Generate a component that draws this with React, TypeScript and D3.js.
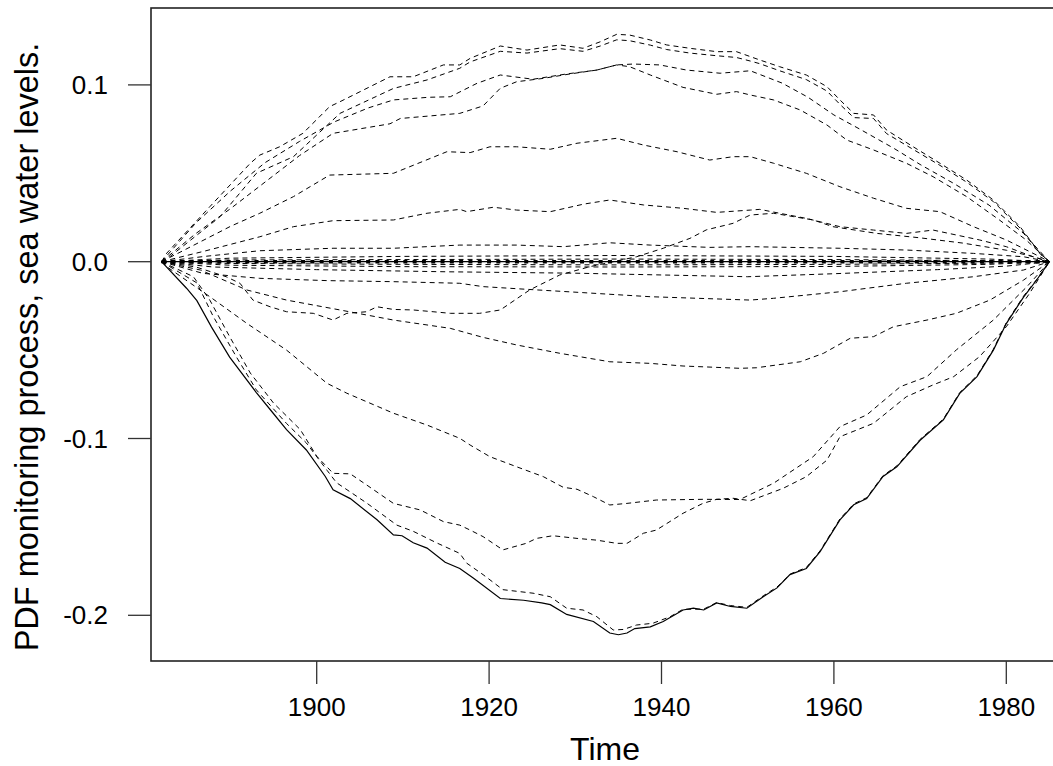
import React from "react"
import * as d3 from "d3"

const width = 1053
const height = 766
const box = { left: 151, top: 8, right: 1059, bottom: 661 }

const xTicks = [1900, 1920, 1940, 1960, 1980]
const yTicks = [0.1, 0.0, -0.1, -0.2]
const yTickLabels = ["0.1", "0.0", "-0.1", "-0.2"]

type Pt = [number, number]

// the solid (observed) monitoring process
const observed: Pt[] = [
  [1882, 0], [1884.9, -0.015], [1886.1, -0.022], [1887.8, -0.037], [1889.9, -0.054], [1893, -0.074],
  [1895, -0.086], [1896.5, -0.095], [1898.8, -0.1065], [1901, -0.1215], [1901.9, -0.129], [1903.9, -0.134],
  [1907, -0.146], [1908.9, -0.1545], [1909.9, -0.155], [1911.2, -0.159], [1912.8, -0.162], [1914.9, -0.17],
  [1916.6, -0.1735], [1918.2, -0.179], [1921.3, -0.1905], [1924, -0.1915], [1926.1, -0.193], [1927.1, -0.194],
  [1929, -0.1995], [1932.1, -0.2035], [1934, -0.21], [1935, -0.211], [1936, -0.21], [1936.9, -0.2075],
  [1938.7, -0.2065], [1940.2, -0.2035], [1942.5, -0.197], [1943.7, -0.196], [1944.9, -0.197], [1946.4, -0.193],
  [1948, -0.195], [1949.9, -0.196], [1951.8, -0.1895], [1953.4, -0.1845], [1954.9, -0.177], [1956.8, -0.1735],
  [1958.4, -0.164], [1960.7, -0.146], [1962.3, -0.1375], [1963.8, -0.134], [1965.7, -0.1215], [1967.3, -0.116],
  [1970, -0.101], [1972.7, -0.0895], [1974.6, -0.0745], [1976.6, -0.065], [1978.5, -0.05], [1980, -0.035],
  [1982, -0.02], [1983.5, -0.0105], [1985, 0],
]

const zeroLine: Pt[] = [[1882, 0], [1985, 0]]

// dashed curves, top to bottom
const up1: Pt[] = [
  [1882, 0], [1882.6, 0.0048], [1887.6, 0.0311], [1892.3, 0.0557], [1893.4, 0.0603], [1895.7, 0.065],
  [1898.4, 0.0726], [1901.5, 0.0877], [1902.7, 0.0905], [1908.5, 0.1046], [1911.2, 0.1046], [1914.7, 0.1113],
  [1916.6, 0.1113], [1917.8, 0.115], [1921.3, 0.122], [1924.4, 0.1197], [1928.2, 0.1226], [1930.9, 0.1207],
  [1932.9, 0.1244], [1934.8, 0.1286], [1936.3, 0.1282], [1938.7, 0.1254], [1940.6, 0.1226], [1943.3, 0.1207],
  [1946.4, 0.1188], [1948.7, 0.1188], [1950.3, 0.116], [1951.4, 0.1141], [1953.7, 0.1103], [1956.8, 0.1056],
  [1959.2, 0.099], [1960.7, 0.0915], [1962.3, 0.0839], [1964.6, 0.083], [1966.1, 0.0745], [1969.2, 0.065],
  [1972.3, 0.0557], [1975.4, 0.0462], [1978.5, 0.0349], [1981.6, 0.0198], [1983.9, 0.0048], [1985, 0],
]
const up2: Pt[] = [
  [1882, 0], [1883, 0.003], [1888.8, 0.0255], [1893, 0.05], [1897.3, 0.0594], [1902.7, 0.0839],
  [1908.9, 0.098], [1912.8, 0.1028], [1916.6, 0.1094], [1917.8, 0.113], [1921.3, 0.119], [1924.4, 0.118],
  [1928.2, 0.1205], [1930.9, 0.119], [1932.9, 0.122], [1934.8, 0.1255], [1936.3, 0.125], [1938.7, 0.1225],
  [1940.6, 0.12], [1943.3, 0.118], [1946.4, 0.1165], [1948.7, 0.1155], [1950.3, 0.1135], [1951.4, 0.112],
  [1953.7, 0.108], [1956.8, 0.103], [1959.2, 0.0965], [1960.7, 0.089], [1962.3, 0.0815], [1964.6, 0.081],
  [1966.1, 0.0725], [1969.2, 0.0635], [1972.3, 0.0545], [1975.4, 0.045], [1978.5, 0.034], [1981.6, 0.019],
  [1984, 0.004], [1985, 0],
]
const up3: Pt[] = [
  [1882, 0], [1886, 0.022], [1890, 0.04], [1894, 0.056], [1898, 0.068], [1902, 0.079], [1906, 0.087],
  [1908.9, 0.0915], [1913, 0.093], [1915.5, 0.0933], [1918.6, 0.1009], [1921.3, 0.1056], [1925.1, 0.1032],
  [1929, 0.1062], [1932.5, 0.1084], [1934.8, 0.1113], [1936.3, 0.1103], [1938.7, 0.1056], [1942.5, 0.0986],
  [1946.4, 0.0947], [1948.7, 0.0962], [1950.3, 0.0943], [1953, 0.0915], [1956.1, 0.0858], [1959.2, 0.0773],
  [1961.5, 0.0688], [1964.6, 0.0632], [1968.4, 0.0557], [1971.5, 0.0481], [1975.4, 0.0368], [1979.2, 0.0236],
  [1982.3, 0.0123], [1985, 0],
]
const up4: Pt[] = [
  [1882, 0], [1886, 0.016], [1890, 0.03], [1894, 0.045], [1898, 0.06], [1901.9, 0.0726], [1908.5, 0.078],
  [1909.7, 0.081], [1916.6, 0.0839], [1919.3, 0.0881], [1921.3, 0.0981], [1923.2, 0.1018], [1926.3, 0.1037],
  [1929.4, 0.1062], [1932.5, 0.1084], [1934.8, 0.1113], [1936.7, 0.1118], [1939.8, 0.1113], [1942.9, 0.1084],
  [1946.8, 0.1066], [1949.1, 0.1075], [1950.3, 0.108], [1954, 0.101], [1957, 0.093], [1960, 0.083],
  [1963, 0.075], [1967, 0.064], [1970, 0.055], [1974, 0.044], [1978, 0.032], [1982, 0.016], [1985, 0],
]
const up5: Pt[] = [
  [1882, 0], [1886, 0.01], [1890, 0.02], [1893.4, 0.0274], [1897.3, 0.0368], [1901.5, 0.049], [1908.9, 0.05],
  [1915.1, 0.0622], [1917.8, 0.0617], [1920.1, 0.065], [1923.2, 0.065], [1927.1, 0.0636], [1930.2, 0.067],
  [1934.8, 0.0698], [1937.9, 0.066], [1941.8, 0.0622], [1945.6, 0.0575], [1948.3, 0.0594], [1950.3, 0.0594],
  [1953, 0.0557], [1956.8, 0.05], [1960.7, 0.0424], [1964.6, 0.0359], [1968.4, 0.0302], [1972.3, 0.0283],
  [1976.2, 0.0198], [1980, 0.0123], [1983.9, 0.0028], [1985, 0],
]
const up6: Pt[] = [
  [1882, 0], [1887, 0.006], [1893.4, 0.0141], [1897.3, 0.0198], [1901.9, 0.0232], [1908.9, 0.0236],
  [1912.8, 0.0274], [1916.6, 0.0296], [1917.4, 0.0283], [1920.5, 0.0308], [1923.2, 0.0292], [1927.1, 0.0283],
  [1931, 0.0326], [1934, 0.0349], [1937.9, 0.0321], [1942.5, 0.0302], [1946.4, 0.0279], [1950.3, 0.0292],
  [1951.4, 0.0296], [1953.7, 0.0274], [1956.8, 0.0245], [1960.7, 0.0198], [1964.6, 0.0179], [1968.4, 0.016],
  [1971.5, 0.0179], [1974.2, 0.0151], [1976.9, 0.0123], [1980, 0.0085], [1983.1, 0.0028], [1985, 0],
]
const up7: Pt[] = [
  [1882, 0], [1887, 0.003], [1893.4, 0.0062], [1901.9, 0.0076], [1908.9, 0.0076], [1916.6, 0.0094],
  [1923.2, 0.0094], [1928.6, 0.0085], [1934, 0.0107], [1938.7, 0.0094], [1945.6, 0.0081], [1950.3, 0.0085],
  [1960.7, 0.0076], [1968.4, 0.0066], [1976.2, 0.0047], [1982, 0.0028], [1985, 0],
]
const near1: Pt[] = [[1882, 0], [1890, 0.002], [1910, 0.003], [1935, 0.0035], [1960, 0.003], [1978, 0.0015], [1985, 0]]
const near2: Pt[] = [[1882, 0], [1890, 0.001], [1910, 0.0012], [1935, 0.0015], [1960, 0.0012], [1978, 0.0006], [1985, 0]]
const near3: Pt[] = [[1882, 0], [1890, -0.001], [1910, -0.0015], [1935, -0.0018], [1960, -0.0015], [1978, -0.0008], [1985, 0]]
const near4: Pt[] = [[1882, 0], [1890, -0.002], [1910, -0.0028], [1935, -0.003], [1960, -0.0027], [1978, -0.0015], [1985, 0]]
const low0: Pt[] = [
  [1882, 0], [1888, -0.003], [1900, -0.0045], [1915, -0.0057], [1930, -0.0065], [1945, -0.008], [1950, -0.0085],
  [1960, -0.0068], [1972, -0.0045], [1980, -0.0025], [1985, 0],
]
const crossing: Pt[] = [
  [1882, 0], [1886, -0.003], [1889.5, -0.0085], [1891.1, -0.0122], [1892.6, -0.0217], [1894.6, -0.0255],
  [1896.5, -0.0283], [1899.6, -0.0292], [1901.9, -0.033], [1903.5, -0.0292], [1905.8, -0.0283], [1907, -0.0255],
  [1908.9, -0.027], [1911.2, -0.0273], [1913.5, -0.0283], [1915.5, -0.0292], [1918.9, -0.0292], [1921.3, -0.0273],
  [1924.7, -0.016], [1928.2, -0.0075], [1931.7, -0.0028], [1937.1, 0.0028], [1940.2, 0.0076], [1943.3, 0.0132],
  [1945.2, 0.018], [1948.3, 0.0217], [1949.9, 0.0255], [1950.3, 0.0264], [1953, 0.0274], [1955.3, 0.0255],
  [1957.6, 0.0236], [1959.9, 0.0198], [1965, 0.016], [1970, 0.0135], [1975, 0.0105], [1980, 0.0065],
  [1983, 0.003], [1985, 0],
]
const low1: Pt[] = [
  [1882, 0], [1886.8, -0.0066], [1893.4, -0.0094], [1901.2, -0.0107], [1908.9, -0.0113], [1916.6, -0.0122],
  [1919.3, -0.0141], [1924.3, -0.0156], [1930.9, -0.0175], [1938.7, -0.0198], [1950.3, -0.0217], [1953, -0.0207],
  [1960.7, -0.017], [1968.4, -0.0122], [1976.2, -0.0085], [1982, -0.0047], [1985, 0],
]
const low2: Pt[] = [
  [1882, 0], [1886.5, -0.0047], [1891.9, -0.016], [1896.5, -0.0217], [1902.7, -0.0273], [1908.9, -0.033],
  [1915.5, -0.0377], [1919.3, -0.0428], [1923.2, -0.0471], [1928.2, -0.0518], [1934, -0.0566], [1938.7, -0.0575],
  [1942.5, -0.059], [1949.1, -0.0603], [1951, -0.06], [1956.1, -0.0566], [1958.8, -0.0518], [1961.9, -0.0433],
  [1964.6, -0.0424], [1966.9, -0.0368], [1970.8, -0.033], [1974.2, -0.0292], [1978.1, -0.0217], [1982, -0.0104],
  [1985, 0],
]
const low3: Pt[] = [
  [1882, 0], [1882.6, -0.0028], [1887.6, -0.0198], [1891.9, -0.0349], [1896.5, -0.05], [1901.2, -0.0688],
  [1903.5, -0.0744], [1908.9, -0.0857], [1912.8, -0.0924], [1916.6, -0.0999], [1917.8, -0.1037], [1920.1, -0.1103],
  [1923.2, -0.116], [1926.3, -0.1216], [1928.6, -0.1276], [1930.2, -0.1287], [1932.1, -0.1329], [1934, -0.1376],
  [1936, -0.1367], [1939.4, -0.1348], [1944.8, -0.1344], [1949.1, -0.1345], [1953, -0.1253], [1957.6, -0.1103],
  [1960.7, -0.0933], [1963.8, -0.0867], [1967.7, -0.0707], [1970.8, -0.065], [1974.2, -0.0499], [1978.5, -0.033],
  [1982.4, -0.0141], [1985, 0],
]
const low4: Pt[] = [
  [1882, 0], [1885.7, -0.0085], [1887.6, -0.0217], [1889.9, -0.0424], [1892.3, -0.063], [1895, -0.08],
  [1898.1, -0.095], [1900, -0.11], [1901.9, -0.1197], [1903.9, -0.12], [1905.8, -0.1263], [1908.9, -0.1367],
  [1912, -0.1404], [1914.7, -0.147], [1916.6, -0.149], [1917.8, -0.1518], [1919.3, -0.1555], [1921.6, -0.163],
  [1924.3, -0.1593], [1925.5, -0.1565], [1927.4, -0.155], [1930.2, -0.1565], [1932.5, -0.1575], [1934.8, -0.1593],
  [1936, -0.1593], [1937.9, -0.1536], [1939.4, -0.1518], [1942.5, -0.1423], [1944.8, -0.1367], [1946.4, -0.1344],
  [1948.3, -0.1338], [1950.3, -0.1352], [1954.1, -0.1282], [1956.8, -0.1216], [1959.2, -0.1122], [1960.7, -0.099],
  [1964.6, -0.0914], [1968.4, -0.0764], [1971.5, -0.0697], [1973.9, -0.065], [1976.9, -0.0537], [1980, -0.0368],
  [1982.7, -0.0179], [1985, 0],
]
const low5: Pt[] = [
  [1882, 0], [1886.1, -0.012], [1888, -0.031], [1890.7, -0.054], [1893, -0.0725], [1896.5, -0.0915],
  [1898.8, -0.1025], [1901.2, -0.118], [1902.3, -0.125], [1905.8, -0.1365], [1909.3, -0.149], [1911.2, -0.1525],
  [1913.9, -0.159], [1916.6, -0.165], [1917.4, -0.1705], [1919.3, -0.177], [1921.6, -0.1855], [1925.1, -0.1875],
  [1927.1, -0.1895], [1929, -0.196], [1930.9, -0.197], [1932.5, -0.2008], [1934.4, -0.2083], [1935.6, -0.208],
  [1937.1, -0.2055], [1939, -0.2045], [1941, -0.2008], [1942.5, -0.1966], [1944.9, -0.1965], [1946.4, -0.1928],
  [1948, -0.1945], [1949.9, -0.1955], [1951.8, -0.189], [1953.4, -0.184], [1955, -0.1765], [1956.8, -0.173],
  [1958.4, -0.1635], [1960.7, -0.1455], [1962.3, -0.137], [1963.8, -0.1335], [1965.7, -0.121], [1967.3, -0.1155],
  [1970, -0.1005], [1972.7, -0.089], [1974.6, -0.074], [1976.6, -0.0645], [1978.5, -0.0495], [1980, -0.0345],
  [1982, -0.0195], [1983.5, -0.0102], [1985, 0],
]

const dashed = [up1, up2, up3, up4, up5, up6, up7, near1, near2, near3, near4, low0, crossing, low1, low2, low3, low4, low5]

const App = () => {
  const x = d3.scaleLinear().domain([1900, 1980]).range([316.7, 1006.3])
  const y = d3.scaleLinear().domain([0.1, -0.2]).range([84.9, 615.3])
  const line = d3
    .line<Pt>()
    .x((d) => x(d[0]))
    .y((d) => y(d[1]))

  const font = "'Liberation Sans', Arial, Helvetica, sans-serif"

  return (
    <svg
      width={width}
      height={height}
      style={{ position: "absolute", left: 0, top: 0, background: "#fff" }}
    >
      <rect x={0} y={0} width={width} height={height} fill="#fff" />
      {/* zero reference (solid + heavy dashes where many curves pile up) */}
      <path d={line(zeroLine) || ""} fill="none" stroke="#000" strokeWidth={1.2} />
      <path d={line(zeroLine) || ""} fill="none" stroke="#000" strokeWidth={3.5} strokeDasharray="4 5.3" />
      {dashed.map((s, i) => (
        <path
          key={i}
          d={line(s) || ""}
          fill="none"
          stroke="#000"
          strokeWidth={1}
          strokeDasharray="5 4"
        />
      ))}
      <path d={line(observed) || ""} fill="none" stroke="#000" strokeWidth={1.2} />

      <rect
        x={box.left}
        y={box.top}
        width={box.right - box.left}
        height={box.bottom - box.top}
        fill="none"
        stroke="#222"
        strokeWidth={1.6}
      />

      {xTicks.map((t) => (
        <g key={t} transform={`translate(${x(t)}, ${box.bottom})`}>
          <line y2={23} stroke="#333" strokeWidth={1.3} />
          <text y={55} textAnchor="middle" fontFamily={font} fontSize={26}>
            {t}
          </text>
        </g>
      ))}
      {yTicks.map((t, i) => (
        <g key={t} transform={`translate(${box.left}, ${y(t)})`}>
          <line x2={-23} stroke="#333" strokeWidth={1.3} />
          <text x={-43} dy="0.35em" textAnchor="end" fontFamily={font} fontSize={26}>
            {yTickLabels[i]}
          </text>
        </g>
      ))}

      <text x={605} y={760} textAnchor="middle" fontFamily={font} fontSize={32}>
        Time
      </text>
      <text
        transform={`translate(38, 347) rotate(-90)`}
        textAnchor="middle"
        fontFamily={font}
        fontSize={32.5}
      >
        PDF monitoring process, sea water levels.
      </text>
    </svg>
  )
}

export default App
